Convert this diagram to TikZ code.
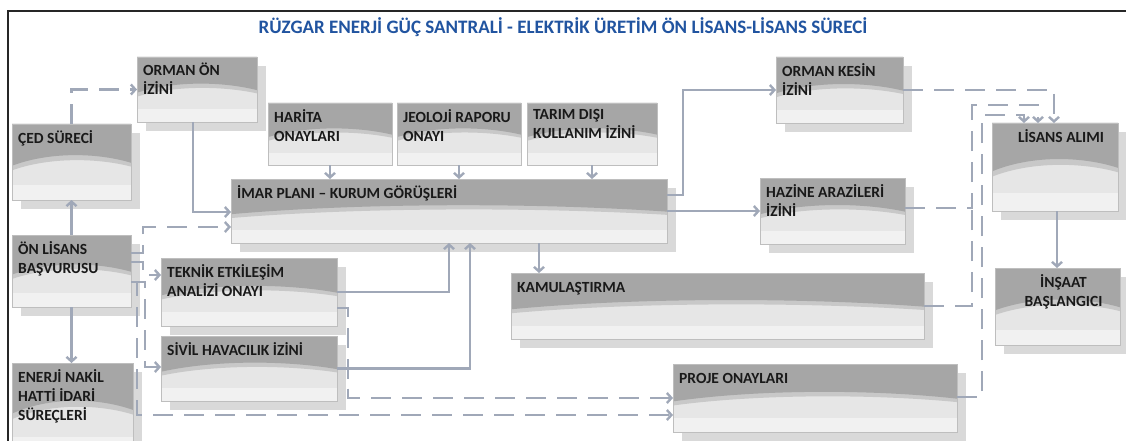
\documentclass[tikz,border=0pt]{standalone}
\usepackage{fontspec}
\newfontfamily\cardfont{Carlito}
\usepackage{tikz}
\usetikzlibrary{arrows.meta}
\usetikzlibrary{positioning}
\usetikzlibrary{shadows}
\usetikzlibrary{calc}
\definecolor{titleblue}{RGB}{33,84,160}
\definecolor{linkgray}{RGB}{160,168,184}
\definecolor{cardtop}{RGB}{166,166,166}
\definecolor{cardband}{RGB}{200,200,200}
\definecolor{cardlight}{RGB}{230,230,230}
\definecolor{cardpale}{RGB}{241,241,241}
\definecolor{cardborder}{RGB}{190,190,190}
\definecolor{shadowgray}{RGB}{217,217,217}
\definecolor{cardink}{RGB}{25,25,25}

\begin{document}
\begin{tikzpicture}[x=1pt,y=-1pt,node distance=5pt,
  cardpaint/.style={path picture={
    \fill[cardpale] let \p1=(path picture bounding box.north west),\p2=(path picture bounding box.south east) in
      (\x1,{\y2+0.2*(\y1-\y2)}) rectangle (\p2);
    \fill[cardband] let \p1=(path picture bounding box.north west),\p2=(path picture bounding box.south east) in
      (\p1) -- (\x2,\y1) -- (\x2,{\y1-0.56*(\y1-\y2)})
      .. controls ({\x1+0.7*(\x2-\x1)},{\y1-0.44*(\y1-\y2)}) and ({\x1+0.3*(\x2-\x1)},{\y1-0.44*(\y1-\y2)})
      .. (\x1,{\y1-0.61*(\y1-\y2)}) -- cycle;
    \fill[cardtop] let \p1=(path picture bounding box.north west),\p2=(path picture bounding box.south east) in
      (\p1) -- (\x2,\y1) -- (\x2,{\y1-0.51*(\y1-\y2)})
      .. controls ({\x1+0.7*(\x2-\x1)},{\y1-0.37*(\y1-\y2)}) and ({\x1+0.3*(\x2-\x1)},{\y1-0.37*(\y1-\y2)})
      .. (\x1,{\y1-0.55*(\y1-\y2)}) -- cycle;}},
  card/.style={draw=cardborder,line width=0.8pt,fill=cardlight,inner sep=0pt,outer sep=0pt,cardpaint},
  shadowcard/.style={card,drop shadow={shadow xshift=9pt,shadow yshift=-9pt,fill=shadowgray,opacity=1}},
  cardtext/.style={anchor=north west,xshift=6pt,yshift=-6pt,inner sep=0pt,align=left,text=cardink,
    font=\cardfont\bfseries\fontsize{15.5pt}{19pt}\selectfont,execute at begin node=\rule{0pt}{13pt}},
  cardtextc/.style={cardtext,anchor=north,xshift=0pt,align=center},
  link/.style={draw=linkgray,line width=2.4pt,-{Straight Barb[length=4.5pt,width=10pt]}},
  dashlink/.style={link,dash pattern=on 20pt off 11pt},
  joinlink/.style={draw=linkgray,line width=2.4pt,dash pattern=on 20pt off 11pt}]
  \useasboundingbox (0,0) rectangle (1126,441);
  \fill[white] (0,0) rectangle (1126,441);
  \draw[line width=1.8pt,black!85] (8,11) rectangle (1140,460);

  \node[font=\cardfont\bfseries\fontsize{19pt}{22pt}\selectfont,text=titleblue] (title) at (563,27)
    {RÜZGAR ENERJİ GÜÇ SANTRALİ - ELEKTRİK ÜRETİM ÖN LİSANS-LİSANS SÜRECİ};

  \node[shadowcard,minimum width=120pt,minimum height=65pt,label={[cardtext]north west:ORMAN ÖN\\İZİNİ}] (ormanon) at (197,89.5) {};
  \node[shadowcard,minimum width=119pt,minimum height=76pt,label={[cardtext]north west:ÇED SÜRECİ}] (ced) at (71.5,162) {};
  \node[card,minimum width=124pt,minimum height=62pt,label={[cardtext]north west:HARİTA\\ONAYLARI}] (harita) at (330,134) {};
  \node[card,minimum width=124pt,minimum height=62pt,right=5pt of harita,label={[cardtext]north west:JEOLOJİ RAPORU\\ONAYI}] (jeoloji) {};
  \node[card,minimum width=130pt,minimum height=62pt,right=6pt of jeoloji,label={[cardtext]north west:TARIM DIŞI\\KULLANIM İZİNİ}] (tarim) {};
  \node[shadowcard,minimum width=436pt,minimum height=64pt,label={[cardtext]north west:İMAR PLANI – KURUM GÖRÜŞLERİ}] (imar) at (449,211) {};
  \node[shadowcard,minimum width=119pt,minimum height=72pt,label={[cardtext]north west:ÖN LİSANS\\BAŞVURUSU}] (onlisans) at (71.5,271) {};
  \node[shadowcard,minimum width=121pt,minimum height=92pt,label={[cardtext]north west:ENERJİ NAKİL\\HATTİ İDARİ\\SÜREÇLERİ}] (enerji) at (72.5,409) {};
  \node[shadowcard,minimum width=176pt,minimum height=68pt,label={[cardtext]north west:TEKNİK ETKİLEŞİM\\ANALİZİ ONAYI}] (teknik) at (249,292) {};
  \node[shadowcard,minimum width=176pt,minimum height=65pt,below=10pt of teknik,label={[cardtext]north west:SİVİL HAVACILIK İZİNİ}] (sivil) {};
  \node[shadowcard,minimum width=413pt,minimum height=66pt,label={[cardtext]north west:KAMULAŞTIRMA}] (kamul) at (717.5,306) {};
  \node[shadowcard,minimum width=284pt,minimum height=68pt,label={[cardtext]north west:PROJE ONAYLARI}] (proje) at (815,398) {};
  \node[shadowcard,minimum width=127pt,minimum height=66pt,label={[cardtext]north west:ORMAN KESİN\\İZİNİ}] (ormankesin) at (839.5,90) {};
  \node[shadowcard,minimum width=145pt,minimum height=66pt,label={[cardtext]north west:HAZİNE ARAZİLERİ\\İZİNİ}] (hazine) at (832.5,211) {};
  \node[shadowcard,minimum width=126pt,minimum height=88pt,label={[cardtextc]north:LİSANS ALIMI}] (lisans) at (1055,167) {};
  \node[shadowcard,minimum width=125pt,minimum height=77pt,label={[cardtextc]north:İNŞAAT\\BAŞLANGICI}] (insaat) at (1057.5,306.5) {};

  \coordinate (pjoin) at (348,398);
  \coordinate (hjoin) at (972,208);

  % left column
  \draw[link] (onlisans.north) -- (ced.south);
  \draw[dashlink] (ced.north) |- (ormanon.west);
  \draw[link] (ormanon.south -| 193,0) |- (imar.west |- 0,212);
  \draw[dashlink] (onlisans.east |- 0,253) -| (143,227) -- (imar.west |- 0,227);
  \draw[dashlink] (onlisans.east |- 0,262) -| (143,275) -- (teknik.west |- 0,275);
  \draw[dashlink] (onlisans.east |- 0,282) -| (145,367) -- (sivil.west |- 0,367);
  \draw[dashlink] (onlisans.east |- 0,282) -| (137,415) -- (proje.west |- 0,415);
  \draw[link] (onlisans.south) -- (onlisans.south |- enerji.north);

  % into the zoning plan
  \draw[link] (harita.south) -- (harita.south |- imar.north);
  \draw[link] (jeoloji.south) -- (jeoloji.south |- imar.north);
  \draw[link] (tarim.south) -- (tarim.south |- imar.north);
  \draw[link] (teknik.east) -| (imar.south -| 449,0);
  \draw[link] (sivil.east) -| (imar.south -| 470,0);
  \draw[dashlink] (teknik.east |- 0,308) -| (pjoin) -- (proje.west |- pjoin);
  \draw[joinlink] (sivil.east) -| (pjoin);

  % out of the zoning plan
  \draw[link] (imar.east |- 0,195) -| (683,90) -- (ormankesin.west);
  \draw[link] (imar.east) -- (hazine.west);
  \draw[link] (imar.south -| 539,0) -- (kamul.north -| 539,0);

  % towards the licence
  \draw[dashlink] (ormankesin.east) -| (lisans.north -| 1054,0);
  \draw[dashlink] (hazine.east |- hjoin) -| (972,105) -| (lisans.north -| 1038,0);
  \draw[joinlink] (kamul.east) -| (hjoin);
  \draw[dashlink] (proje.east |- 0,397) -| (982,115) -| (lisans.north -| 1024,0);
  \draw[link] (lisans.south -| 1057,0) -- (insaat.north -| 1057,0);
\end{tikzpicture}
\end{document}
